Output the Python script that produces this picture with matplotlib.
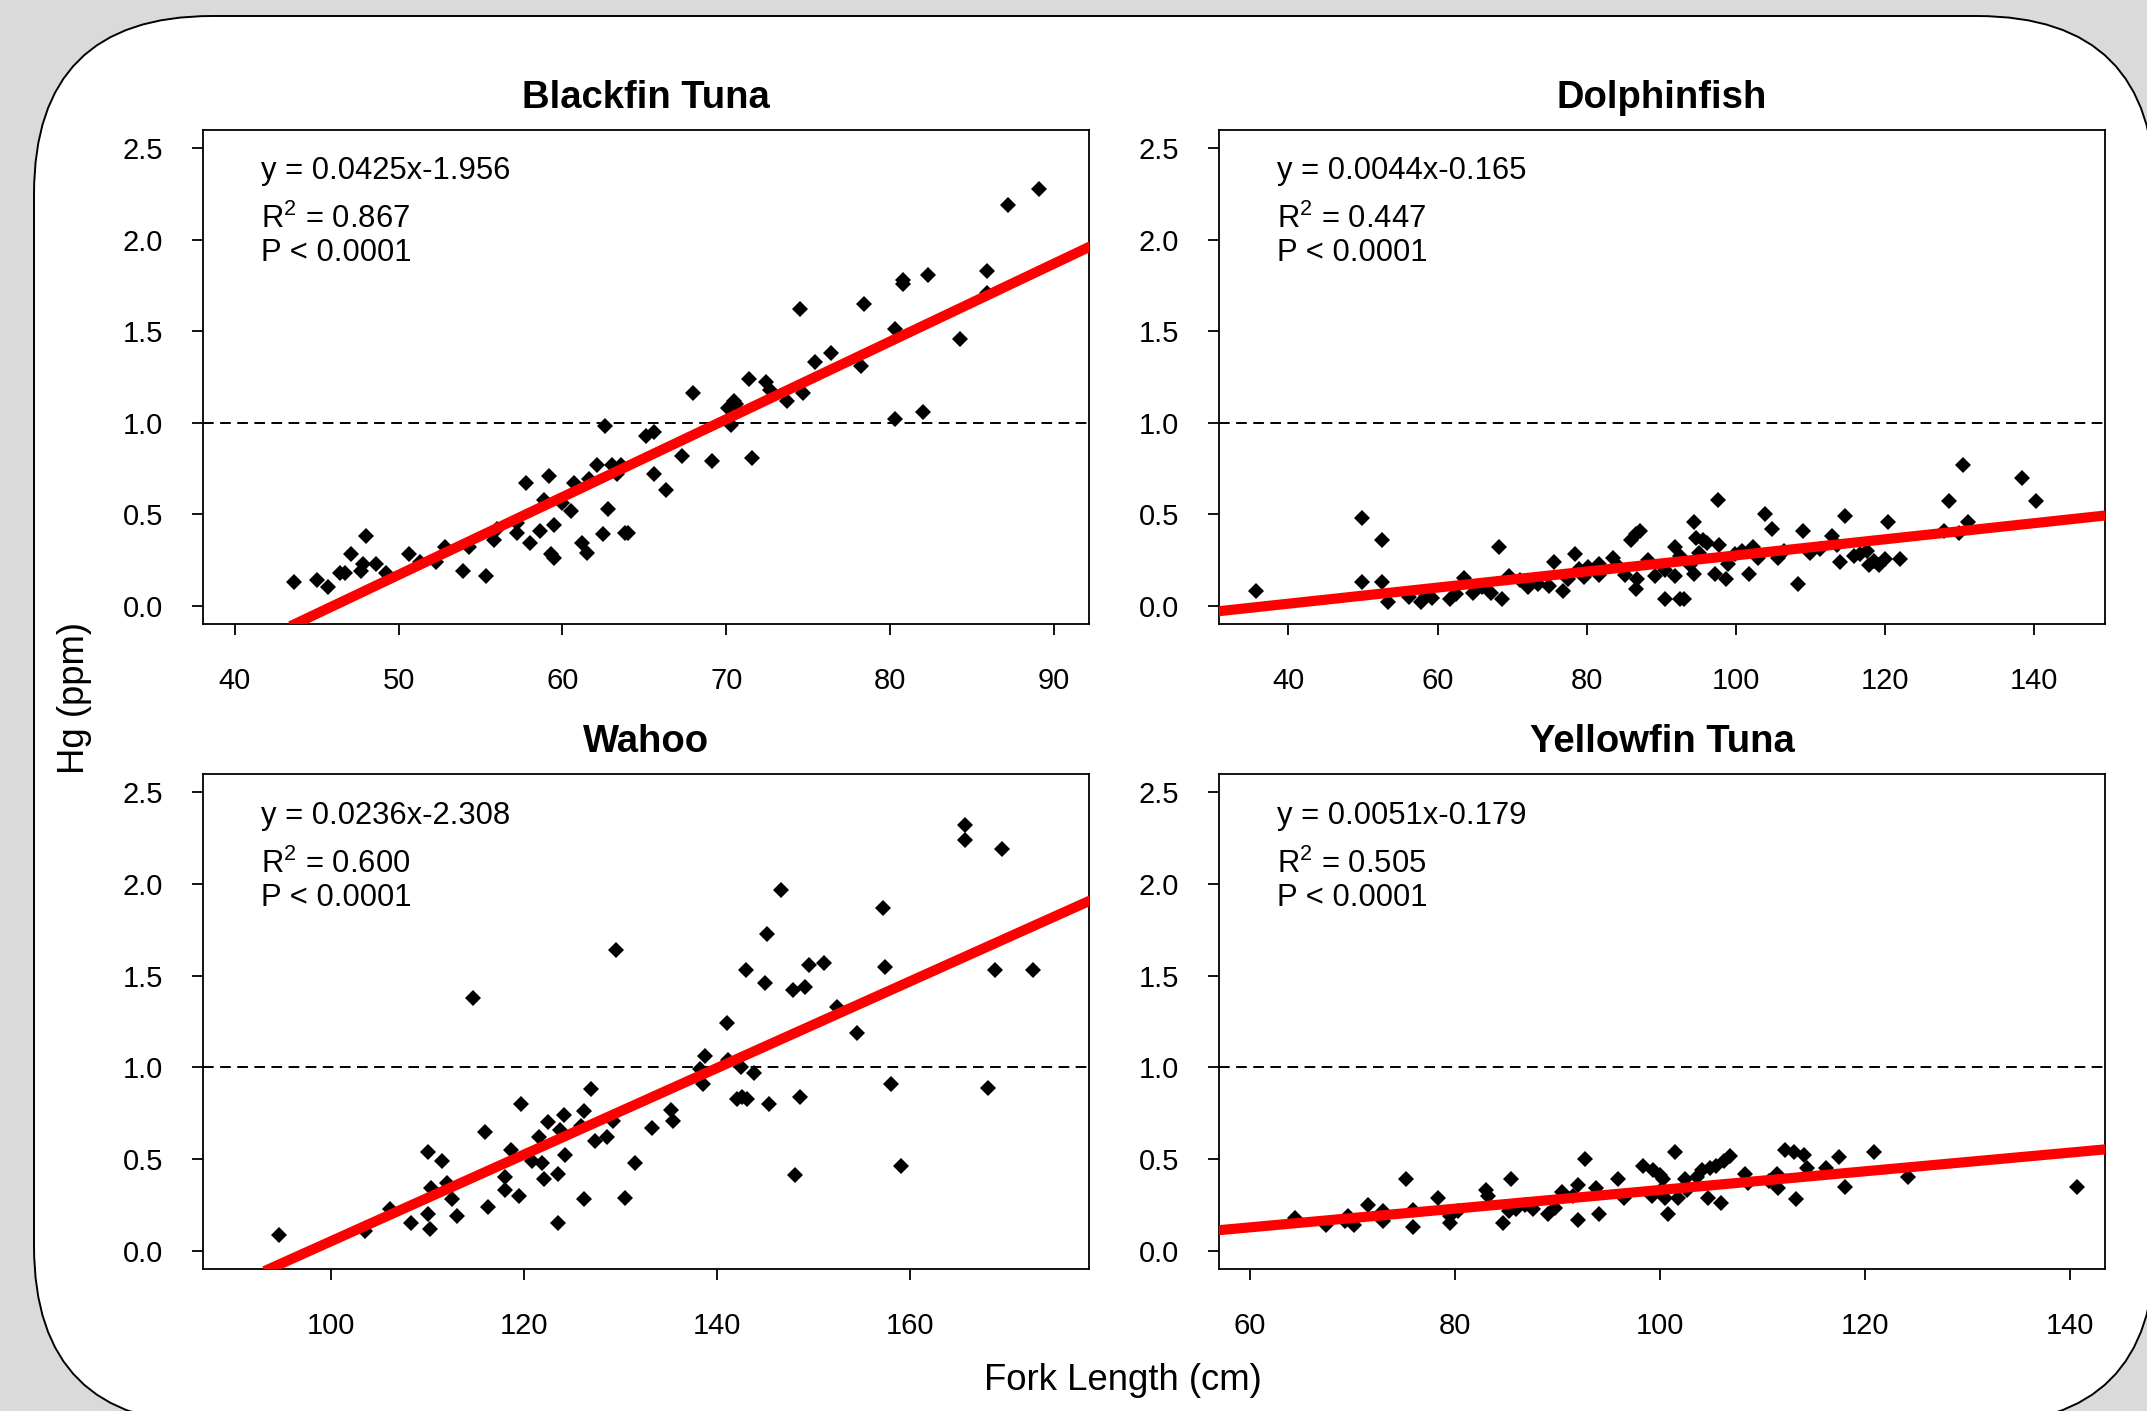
import matplotlib
matplotlib.use('Agg')

import matplotlib.pyplot as plt
from matplotlib.patches import FancyBboxPatch

plt.rcParams['font.family'] = 'Liberation Sans'
plt.rcParams['mathtext.fontset'] = 'custom'
plt.rcParams['mathtext.rm'] = 'Liberation Sans'

# ---- data ----
titles = ['Blackfin Tuna', 'Dolphinfish', 'Wahoo', 'Yellowfin Tuna']

bf_len = [43.6, 45.0, 45.7, 46.4, 46.7, 47.1, 47.7, 47.8, 48.0, 48.6,
          49.2, 50.6, 51.3, 52.3, 52.8, 53.9, 54.3, 55.3, 55.8, 56.0,
          57.2, 57.2, 57.8, 58.0, 58.6, 58.9, 59.2, 59.3, 59.5, 59.5,
          60.0, 60.5, 60.7, 61.2, 61.5, 61.6, 62.1, 62.5, 62.6, 62.8,
          63.0, 63.3, 63.6, 63.8, 64.0, 65.1, 65.6, 65.6, 66.3, 67.3,
          68.0, 69.1, 70.1, 70.3, 70.5, 70.6, 71.4, 71.6, 72.4, 72.7,
          73.7, 74.5, 74.7, 75.4, 76.4, 78.2, 78.4, 80.3, 80.3, 80.8,
          80.8, 82.0, 82.3, 84.3, 85.9, 85.9, 87.2, 89.1]
bf_hg = [0.13, 0.14, 0.10, 0.18, 0.18, 0.28, 0.19, 0.23, 0.38, 0.23,
         0.18, 0.28, 0.24, 0.24, 0.32, 0.19, 0.32, 0.16, 0.36, 0.42,
         0.40, 0.45, 0.67, 0.34, 0.41, 0.58, 0.71, 0.28, 0.26, 0.44,
         0.56, 0.52, 0.67, 0.34, 0.29, 0.69, 0.77, 0.39, 0.98, 0.53,
         0.77, 0.72, 0.77, 0.40, 0.40, 0.93, 0.95, 0.72, 0.63, 0.82,
         1.16, 0.79, 1.08, 0.99, 1.12, 1.10, 1.24, 0.81, 1.22, 1.18,
         1.12, 1.62, 1.16, 1.33, 1.38, 1.31, 1.65, 1.51, 1.02, 1.78,
         1.76, 1.06, 1.81, 1.46, 1.71, 1.83, 2.19, 2.28]

dol_len = [35.6, 49.9, 52.5, 49.9, 52.5, 53.3, 56.2, 57.8, 58.4, 59.3,
           61.7, 62.5, 63.6, 64.8, 66.0, 67.2, 68.3, 68.7, 69.6, 71.0,
           72.1, 73.5, 74.9, 75.6, 76.8, 77.5, 78.4, 79.0, 79.6, 80.2,
           81.7, 81.7, 83.5, 84.0, 85.1, 86.0, 86.6, 87.1, 86.6, 86.8,
           88.2, 89.1, 90.5, 90.5, 92.5, 93.1, 91.8, 91.8, 92.5, 93.8,
           94.4, 94.4, 94.7, 95.6, 96.1, 95.1, 97.2, 97.6, 97.8, 98.7,
           99.0, 99.9, 100.8, 101.7, 102.3, 103.0, 103.9, 104.9, 105.7, 106.5,
           108.3, 109.0, 110.0, 111.3, 112.9, 113.5, 114.0, 114.7, 115.8, 116.7,
           117.6, 117.8, 118.5, 119.2, 120.0, 120.4, 122.0, 127.9, 128.6, 129.9,
           130.5, 131.1, 138.4, 140.3]
dol_hg = [0.08, 0.48, 0.36, 0.13, 0.13, 0.02, 0.045, 0.02, 0.055, 0.04,
          0.035, 0.065, 0.15, 0.07, 0.10, 0.07, 0.32, 0.035, 0.16, 0.14,
          0.10, 0.12, 0.11, 0.24, 0.08, 0.145, 0.28, 0.20, 0.155, 0.21,
          0.23, 0.17, 0.26, 0.22, 0.17, 0.36, 0.39, 0.41, 0.09, 0.145,
          0.25, 0.165, 0.035, 0.195, 0.035, 0.035, 0.165, 0.32, 0.27, 0.22,
          0.46, 0.175, 0.37, 0.36, 0.345, 0.29, 0.175, 0.58, 0.33, 0.145,
          0.23, 0.28, 0.30, 0.175, 0.32, 0.26, 0.50, 0.42, 0.26, 0.30,
          0.12, 0.41, 0.29, 0.31, 0.38, 0.33, 0.24, 0.49, 0.27, 0.28,
          0.30, 0.22, 0.245, 0.22, 0.255, 0.46, 0.255, 0.41, 0.575, 0.40,
          0.77, 0.46, 0.70, 0.575]

wah_len = [94.6, 103.5, 106.1, 108.3, 110.0, 110.0, 110.2, 110.4, 111.5, 112.0,
           112.5, 113.0, 114.7, 115.9, 116.3, 118.0, 118.0, 118.6, 119.5, 119.7,
           120.8, 121.6, 121.9, 122.1, 122.5, 123.5, 123.5, 123.7, 124.1, 124.2,
           125.9, 126.2, 126.2, 126.9, 127.4, 128.6, 129.2, 129.5, 130.5, 131.5,
           133.3, 135.2, 135.4, 138.2, 138.6, 138.8, 141.1, 141.2, 142.1, 142.6,
           143.1, 142.5, 143.9, 143.0, 145.0, 145.2, 145.4, 146.7, 147.9, 148.1,
           148.6, 149.1, 149.6, 151.1, 152.5, 154.5, 157.2, 157.4, 158.1, 159.1,
           165.7, 165.7, 168.1, 168.8, 169.6, 172.8]
wah_hg = [0.085, 0.11, 0.225, 0.15, 0.54, 0.20, 0.12, 0.34, 0.49, 0.37,
          0.28, 0.19, 1.38, 0.65, 0.24, 0.40, 0.33, 0.55, 0.30, 0.80,
          0.49, 0.62, 0.48, 0.39, 0.70, 0.42, 0.15, 0.66, 0.74, 0.52,
          0.68, 0.76, 0.28, 0.88, 0.60, 0.62, 0.71, 1.64, 0.29, 0.48,
          0.67, 0.77, 0.71, 0.99, 0.91, 1.06, 1.24, 1.04, 0.83, 0.84,
          0.83, 1.00, 0.97, 1.53, 1.46, 1.73, 0.80, 1.97, 1.42, 0.415,
          0.84, 1.44, 1.56, 1.57, 1.33, 1.19, 1.87, 1.55, 0.91, 0.46,
          2.32, 2.24, 0.89, 1.53, 2.19, 1.53]

yf_len = [64.4, 67.4, 69.3, 69.6, 70.2, 71.5, 73.0, 73.0, 75.2, 75.9,
          75.9, 78.4, 79.5, 79.5, 80.3, 83.0, 83.2, 84.7, 85.5, 85.3,
          86.0, 86.8, 87.6, 89.1, 89.8, 90.4, 91.5, 92.0, 92.0, 92.7,
          93.8, 94.1, 95.9, 96.5, 98.3, 99.3, 99.2, 100.1, 100.8, 100.0,
          100.3, 101.5, 100.5, 101.8, 102.4, 102.6, 103.6, 104.1, 104.7, 104.9,
          105.5, 106.0, 106.2, 106.8, 108.3, 108.6, 110.6, 111.4, 111.5, 112.2,
          113.1, 113.3, 114.0, 114.3, 116.2, 117.5, 118.0, 120.9, 124.2, 140.7]
yf_hg = [0.18, 0.14, 0.16, 0.19, 0.14, 0.25, 0.16, 0.215, 0.39, 0.13,
         0.22, 0.29, 0.15, 0.19, 0.215, 0.33, 0.30, 0.15, 0.39, 0.215,
         0.23, 0.25, 0.225, 0.20, 0.235, 0.32, 0.30, 0.17, 0.36, 0.50,
         0.34, 0.20, 0.39, 0.29, 0.46, 0.44, 0.30, 0.33, 0.20, 0.415,
         0.39, 0.54, 0.29, 0.29, 0.39, 0.33, 0.40, 0.44, 0.29, 0.45,
         0.46, 0.26, 0.49, 0.515, 0.42, 0.37, 0.38, 0.42, 0.34, 0.55,
         0.54, 0.28, 0.52, 0.45, 0.45, 0.51, 0.35, 0.54, 0.40, 0.35]

slopes = [0.0425, 0.0044, 0.0236, 0.0051]
intercepts = [-1.956, -0.165, -2.308, -0.179]
r2_labels = ['0.867', '0.447', '0.600', '0.505']
eq_labels = ['y = 0.0425x-1.956', 'y = 0.0044x-0.165',
             'y = 0.0236x-2.308', 'y = 0.0051x-0.179']
p_label = 'P < 0.0001'

x_ticks = [[40, 50, 60, 70, 80, 90],
           [40, 60, 80, 100, 120, 140],
           [100, 120, 140, 160],
           [60, 80, 100, 120, 140]]
x_lims = [(38.05, 92.15), (30.7, 149.5), (86.7, 178.6), (57.0, 143.4)]
y_ticks = [0.0, 0.5, 1.0, 1.5, 2.0, 2.5]

lengths = [bf_len, dol_len, wah_len, yf_len]
hgs = [bf_hg, dol_hg, wah_hg, yf_hg]

# ---- figure ----
W, H = 2147, 1411
fig = plt.figure(figsize=(W / 100, H / 100), dpi=100, facecolor='#dadada')

# rounded white card behind the panels
bg = fig.add_axes([0, 0, 1, 1])
bg.set_xlim(0, W)
bg.set_ylim(H, 0)
bg.axis('off')
bg.add_patch(FancyBboxPatch((34, 16), 2121, 1408,
                            boxstyle='round,pad=0,rounding_size=178',
                            facecolor='white', edgecolor='black', linewidth=1.4))

# axes boxes in pixels: left, top, right, bottom
boxes = [(203, 130, 1089, 624),
         (1219, 130, 2105, 624),
         (203, 774, 1089, 1269),
         (1219, 774, 2105, 1269)]

for i in range(4):
    l, t, r, b = boxes[i]
    ax = fig.add_axes([l / W, 1 - b / H, (r - l) / W, (b - t) / H])
    ax.set_facecolor('white')

    ax.plot(lengths[i], hgs[i], linestyle='none', marker='D', color='black',
            markersize=8.5, markeredgewidth=0, zorder=2)
    ax.axhline(1.0, color='black', linewidth=1.4, dashes=(5.5, 3.3), zorder=3)
    ax.axline((0, intercepts[i]), slope=slopes[i], color='red',
              linewidth=7.3, zorder=4)

    ax.set_xlim(*x_lims[i])
    ax.set_ylim(-0.1, 2.6)
    ax.set_xticks(x_ticks[i])
    ax.set_yticks(y_ticks)
    ax.set_yticklabels([f'{v:.1f}' for v in y_ticks])
    ax.tick_params(direction='out', length=7.9, width=1.3, labelsize=21,
                   colors='black')
    ax.tick_params(axis='y', pad=21)
    ax.tick_params(axis='x', pad=23)
    for sp in ax.spines.values():
        sp.set_linewidth(1.3)
        sp.set_color('black')

    ax.text(0.5, 1.064, titles[i], transform=ax.transAxes, ha='center',
            va='center', fontsize=27.5, fontweight='bold')

    ax.text(0.065, 0.900, eq_labels[i], transform=ax.transAxes,
            ha='left', va='baseline', fontsize=22.3)
    ax.text(0.065, 0.801, r'$\mathrm{R}^{2}$' + ' = ' + r2_labels[i],
            transform=ax.transAxes, ha='left', va='baseline', fontsize=22.3)
    ax.text(0.065, 0.734, p_label, transform=ax.transAxes,
            ha='left', va='baseline', fontsize=22.3)

fig.text(75 / W, 1 - 698 / H, 'Hg (ppm)', rotation=90, ha='center',
         va='center', fontsize=26.3)
fig.text(1123 / W, 1 - 1380 / H, 'Fork Length (cm)', ha='center',
         va='center', fontsize=26.3)

fig.savefig('out.png', dpi=100, facecolor=fig.get_facecolor())
